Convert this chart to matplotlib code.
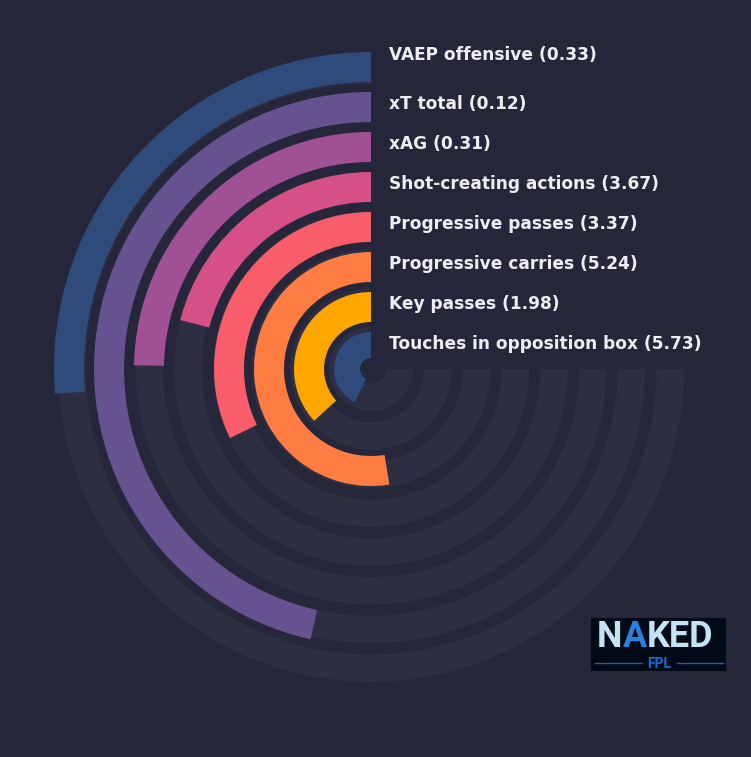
import matplotlib
matplotlib.use("Agg")
import matplotlib.pyplot as plt
import numpy as np
from matplotlib.transforms import offset_copy

# metrics, outermost ring first
metrics = ["VAEP offensive", "xT total", "xAG", "Shot-creating actions",
           "Progressive passes", "Progressive carries", "Key passes",
           "Touches in opposition box"]
values = [0.33, 0.12, 0.31, 3.67, 3.37, 5.24, 1.98, 5.73]
pcts = [35, 62, 33, 28, 43, 70, 49, 57]   # share of the 270 deg track
colors = ["#2f4b7c", "#665191", "#a05195", "#d45087",
          "#f95d6a", "#ff7c43", "#ffa600", "#2f4b7c"]

BG = "#25263a"
TRACK = "#2e2e43"
TXT = "#eeeef2"

W, H = 751, 757
fig = plt.figure(figsize=(W / 100, H / 100), dpi=100, facecolor=BG)

cx, cy, R = 371, 369, 340
ax = fig.add_axes([(cx - R) / W, (H - cy - R) / H, 2 * R / W, 2 * R / H],
                  projection="polar")
ax.set_theta_zero_location("N")
ax.set_theta_direction(1)
ax.set_ylim(0, R)
ax.axis("off")

n = len(metrics)
for i in range(n):
    k = n - 1 - i  # ring index from the centre
    ax.bar(0, 27.5, width=1.5 * np.pi, bottom=14.5 + 38.7 * k, align="edge",
           color=TRACK, linewidth=0, zorder=1)
    ax.bar(0, 30, width=1.5 * np.pi * pcts[i] / 100, bottom=7 + 40 * k,
           align="edge", color=colors[i], linewidth=0, zorder=3)
    dy = -2 if i > 0 else 7
    tr = offset_copy(ax.transData, fig=fig, x=18, y=dy, units="dots")
    ax.text(0, 22 + 40 * k, f"{metrics[i]} ({values[i]:.2f})", transform=tr,
            ha="left", va="baseline", color=TXT, fontsize=12.25,
            fontweight="bold", family="DejaVu Sans", zorder=6)

# dark hub
ax.bar(0, 11, width=2 * np.pi, bottom=0, color=BG, linewidth=0, zorder=5)

# logo
lx0, ly0, lw, lh = 591, 618, 135, 53
lax = fig.add_axes([lx0 / W, 1 - (ly0 + lh) / H, lw / W, lh / H])
lax.set_xlim(0, lw)
lax.set_ylim(0, lh)
lax.set_facecolor("#020a17")
for s in lax.spines.values():
    s.set_visible(False)
lax.set_xticks([])
lax.set_yticks([])

r = fig.canvas.get_renderer()
x = 6
for part, col in [("N", "#c6e3f6"), ("A", "#2b80dc"), ("KED", "#c6e3f6")]:
    t = lax.text(x, 24, part, color=col, fontsize=26, fontweight="bold",
                 family="Roboto", ha="left", va="baseline")
    bb = t.get_window_extent(renderer=r)
    x += bb.width
lax.text(68, 2.7, "FPL", color="#1f6ad2", fontsize=10, fontweight="bold",
         family="Roboto", ha="center", va="baseline")
lax.plot([4, 51], [8, 8], color="#1f5fae", lw=1)
lax.plot([86, 132], [8, 8], color="#1f5fae", lw=1)

fig.savefig("out.png", dpi=100, facecolor=BG)
